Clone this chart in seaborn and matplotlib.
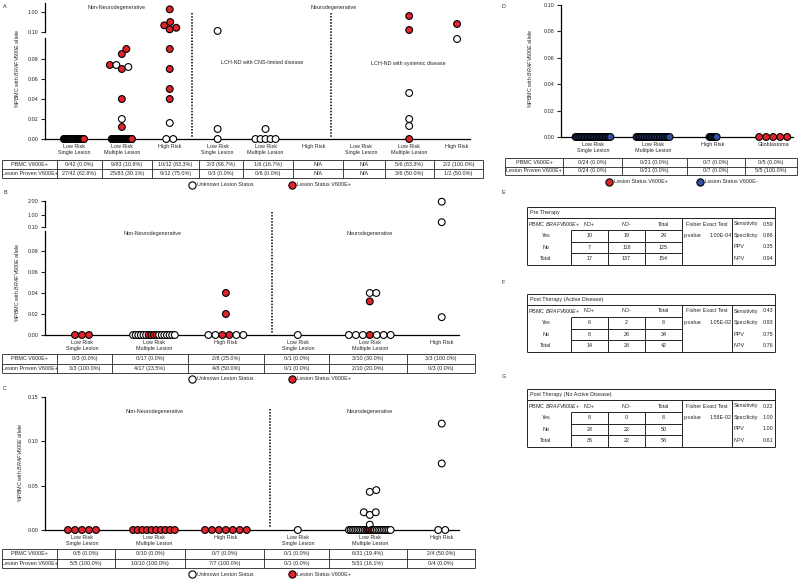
"""PBMC BRAFV600E allele burden by LCH risk group, with ND 2x2 tables"""

import matplotlib
matplotlib.use("Agg")
import matplotlib.pyplot as plt
from matplotlib.lines import Line2D
import numpy as np
import pandas as pd
import seaborn as sns

W, H = 800, 579
RED = "#e3232b"
BLUE = "#34509e"
FS = 3.9

# ---- panel A data ----
A_cats = ["Low Risk\nSingle Lesion", "Low Risk\nMultiple Lesion", "High Risk",
          "Low Risk\nSingle Lesion", "Low Risk\nMultiple Lesion", "High Risk",
          "Low Risk\nSingle Lesion", "Low Risk\nMultiple Lesion", "High Risk"]
A_pos_zero = [27, 19, 0, 0, 0, 0, 0, 1, 0]
A_unk_zero = [15, 55, 2, 1, 5, 0, 0, 0, 0]
A_pos_vals = [[], [0.074, 0.085, 0.09, 0.07, 0.04, 0.012],
              [1.12, 0.55, 0.40, 0.22, 0.29, 0.09, 0.07, 0.05, 0.04],
              [], [], [], [], [0.82, 0.19], [0.46]]
A_unk_vals = [[], [0.072, 0.074, 0.02], [0.016], [0.15, 0.01], [0.01],
              [], [], [0.046, 0.02, 0.013], [0.10]]
A_pbmc = ["0/42 (0.0%)", "9/83 (10.8%)", "10/12 (83.3%)", "2/3 (66.7%)", "1/6 (16.7%)",
          "N/A", "N/A", "5/6 (83.3%)", "2/2 (100.0%)"]
A_lesion = ["27/42 (62.8%)", "25/83 (30.1%)", "9/12 (75.0%)", "0/3 (0.0%)", "0/6 (0.0%)",
            "N/A", "N/A", "3/6 (50.0%)", "1/2 (50.0%)"]

# ---- panel B data ----
BC_cats = ["Low Risk\nSingle Lesion", "Low Risk\nMultiple Lesion", "High Risk",
           "Low Risk\nSingle Lesion", "Low Risk\nMultiple Lesion", "High Risk"]
B_pos_zero = [3, 4, 2, 0, 1, 0]
B_unk_zero = [0, 13, 4, 1, 6, 0]
B_pos_vals = [[], [], [0.04, 0.02], [], [0.032], []]
B_unk_vals = [[], [], [], [], [0.04, 0.04], [1.95, 0.45, 0.017]]
B_pbmc = ["0/3 (0.0%)", "0/17 (0.0%)", "2/8 (25.0%)", "0/1 (0.0%)", "3/10 (30.0%)", "3/3 (100.0%)"]
B_lesion = ["3/3 (100.0%)", "4/17 (23.5%)", "4/8 (50.0%)", "0/1 (0.0%)", "2/10 (20.0%)", "0/3 (0.0%)"]

# ---- panel C data ----
C_pos_zero = [5, 10, 7, 0, 5, 0]
C_unk_zero = [0, 0, 0, 1, 20, 2]
C_pos_vals = [[], [], [], [], [], []]
C_unk_vals = [[], [], [], [], [0.043, 0.045, 0.020, 0.017, 0.020, 0.006], [0.12, 0.075]]
C_pbmc = ["0/5 (0.0%)", "0/10 (0.0%)", "0/7 (0.0%)", "0/1 (0.0%)", "6/31 (19.4%)", "2/4 (50.0%)"]
C_lesion = ["5/5 (100.0%)", "10/10 (100.0%)", "7/7 (100.0%)", "0/1 (0.0%)", "5/31 (16.1%)", "0/4 (0.0%)"]

# ---- panel D data ----
D_cats = ["Low Risk\nSingle Lesion", "Low Risk\nMultiple Lesion", "High Risk", "Glioblastoma"]
D_pos_zero = [0, 0, 0, 5]
D_neg_zero = [24, 21, 7, 0]
D_pbmc = ["0/24 (0.0%)", "0/21 (0.0%)", "0/7 (0.0%)", "0/5 (0.0%)"]
D_lesion = ["0/24 (0.0%)", "0/21 (0.0%)", "0/7 (0.0%)", "5/5 (100.0%)"]

# ---- panels E-G: 2x2 tables ----
E_counts = [[10, 19, 29], [7, 118, 125], [17, 137, 154]]
F_counts = [[6, 2, 8], [8, 26, 34], [14, 28, 42]]
G_counts = [[8, 0, 8], [28, 22, 50], [36, 22, 58]]
E_metrics = [0.59, 0.86, 0.35, 0.94]
F_metrics = [0.43, 0.93, 0.75, 0.76]
G_metrics = [0.22, 1.00, 1.00, 0.61]
pvalues = ["1.00E-04", "1.05E-02", "1.58E-02"]
titles = ["Pre Therapy", "Post Therapy (Active Disease)", "Post Therapy (No Active Disease)"]

sns.set_style("white")
plt.rcParams["font.family"] = ["Liberation Sans", "DejaVu Sans"]
plt.rcParams["mathtext.fontset"] = "custom"
plt.rcParams["mathtext.rm"] = "Liberation Sans"
plt.rcParams["mathtext.it"] = "Liberation Sans:italic"

PAL = {"V600E+": RED, "Unknown": "white", "V600E-": BLUE}
YLAB = r"%PBMC with $\it{BRAFV600E}$ allele"


def px_axes(fig, x0, y0, x1, y1):
    return fig.add_axes([x0 / W, 1 - y1 / H, (x1 - x0) / W, (y1 - y0) / H])


def build_frame(pos_zero, oth_zero, pos_vals, oth_vals, oth_label,
                split, x_px, y_lo, y_hi, max_span, reds_center=True):
    rows = []
    spans = max_span if isinstance(max_span, list) else [max_span] * len(pos_zero)
    for i in range(len(pos_zero)):
        # points sitting on zero are laid out as one row
        reds = ["V600E+"] * pos_zero[i]
        others = [oth_label] * oth_zero[i]
        st = reds + others if reds_center else others + reds
        n = len(st)
        if n:
            step = 7.0 if n == 1 else min(7.0, spans[i] * x_px / (n - 1))
            slots = (np.arange(n) - (n - 1) / 2) * step
            slots = slots[np.argsort(np.abs(slots), kind="stable")]
            for s, o in zip(st, slots):
                rows.append((i, i + o / x_px, 0.0, s, "lo"))
        # the rest are swarmed so they don't overlap
        pts = sorted([(v, "V600E+") for v in pos_vals[i]] + [(v, oth_label) for v in oth_vals[i]])
        placed = {"lo": [], "hi": []}
        for v, s in pts:
            seg = "lo" if v <= split else "hi"
            ypx = v * (y_lo if seg == "lo" else y_hi)
            k, o = 0, None
            while o is None:
                for c in ([0.0] if k == 0 else [k * 0.5, -k * 0.5]):
                    if all(np.hypot(c - px, ypx - py) >= 6.5 for px, py in placed[seg]):
                        o = c
                        break
                k += 1
            placed[seg].append((o, ypx))
            rows.append((i, i + o / x_px, v, s, seg))
    df = pd.DataFrame(rows, columns=["cat", "x", "val", "status", "seg"])
    return df.sort_values("x")


def plot_points(ax, df):
    if len(df):
        sns.scatterplot(data=df, x="x", y="val", hue="status", palette=PAL, s=24,
                        edgecolor="black", linewidth=0.8, legend=False, ax=ax,
                        clip_on=False, zorder=3)
    ax.set(xlabel="", ylabel="")


def style_axis(ax, yticks, xlim, ylim, cats=None):
    ax.set_xlim(*xlim)
    ax.set_ylim(*ylim)
    ax.patch.set_alpha(0)
    for s in ["top", "right"]:
        ax.spines[s].set_visible(False)
    for s in ["left", "bottom"]:
        ax.spines[s].set_linewidth(0.9)
        ax.spines[s].set_color("black")
    ax.tick_params(axis="y", left=True, length=3, width=0.8, labelsize=FS, pad=1.5)
    ax.set_yticks(yticks)
    ax.set_yticklabels([f"{t:.2f}" for t in yticks])
    if cats is None:
        ax.spines["bottom"].set_visible(False)
        ax.set_xticks([])
    else:
        ax.set_xticks(range(len(cats)))
        ax.set_xticklabels(cats, fontsize=FS, linespacing=1.35)
        ax.tick_params(axis="x", bottom=False, length=0, pad=3.5)


def draw_table(ov, xs, y0, y1, labels, rows):
    ym = (y0 + y1) / 2
    ov.vlines(xs, y0, y1, color="#222222", lw=0.6)
    ov.hlines([y0, ym, y1], xs[0], xs[-1], color="#222222", lw=0.6)
    for r, (lab, vals) in enumerate(zip(labels, rows)):
        yc = y0 + (r + 0.5) * (y1 - y0) / 2
        ov.text((xs[0] + xs[1]) / 2, yc, lab, fontsize=FS, ha="center", va="center")
        for j, v in enumerate(vals):
            ov.text((xs[j + 1] + xs[j + 2]) / 2, yc, v, fontsize=FS, ha="center", va="center")


def add_legend(fig, cx, cy, entries, gap):
    handles = [Line2D([], [], ls="none", marker="o", markersize=5.2, markerfacecolor=c,
                      markeredgecolor="black", markeredgewidth=0.8) for c, _ in entries]
    fig.legend(handles, [t for _, t in entries], ncol=2, loc="center",
               bbox_to_anchor=(cx / W, 1 - cy / H), frameon=False, fontsize=FS,
               handlelength=1.0, handletextpad=0.5, columnspacing=gap, borderpad=0)


def draw_2x2(ov, top, title, counts, pval, metrics):
    L, c1, c2, c3, c4, c5, R = 527, 571, 608, 645, 682, 732, 775
    bot = top + 57.5
    g0 = top + 23
    rh = (bot - g0) / 3
    lw = 0.7
    kw = dict(color="#222222", lw=lw)
    ov.vlines([L, R], top, bot, **kw)
    ov.hlines([top, bot], L, R, **kw)
    ov.hlines(top + 11, L, R, **kw)
    ov.vlines([c4, c5], top + 11, bot, **kw)
    ov.vlines([c1, c2, c3], g0, bot, **kw)
    ov.hlines([g0 + k * rh for k in range(3)], c1, c4, **kw)
    ov.text(L + 2.5, top + 5.5, title, fontsize=FS, ha="left", va="center")
    hy = top + 17
    ov.text(L + 1.5, hy, r"PBMC $\it{BRAFV600E}$+", fontsize=FS, ha="left", va="center")
    for xc, t in zip([(c1 + c2) / 2, (c2 + c3) / 2, (c3 + c4) / 2], ["ND+", "ND-", "Total"]):
        ov.text(xc, hy, t, fontsize=FS, ha="center", va="center")
    ov.text((c4 + c5) / 2, hy, "Fisher Exact Test", fontsize=FS, ha="center", va="center")
    ov.text(c4 + 1.5, g0 + rh / 2, "p-value", fontsize=FS, ha="left", va="center")
    ov.text(c5 - 0.5, g0 + rh / 2, pval, fontsize=FS, ha="right", va="center")
    for k, (name, m) in enumerate(zip(["Sensitivity", "Specificity", "PPV", "NPV"], metrics)):
        yy = hy + k * rh
        ov.text(c5 + 2, yy, name, fontsize=FS, ha="left", va="center")
        ov.text(R - 1.5, yy, f"{m:.2f}", fontsize=FS, ha="right", va="center")
    for k, (lab, row) in enumerate(zip(["Yes", "No", "Total"], counts)):
        yy = g0 + (k + 0.5) * rh
        ov.text(546, yy, lab, fontsize=FS, ha="center", va="center")
        for xc, v in zip([(c1 + c2) / 2, (c2 + c3) / 2, (c3 + c4) / 2], row):
            ov.text(xc, yy, str(v), fontsize=FS, ha="center", va="center")


fig = plt.figure(figsize=(W / 100, H / 100), dpi=100, facecolor="white")

# ---------------- A ----------------
dfA = build_frame(A_pos_zero, A_unk_zero, A_pos_vals, A_unk_vals, "Unknown",
                  0.101, 47.9, 1000, 22.2, 0.42, reds_center=False)
xA = (-0.605, 8.27)
axA_hi = px_axes(fig, 45, 3, 470, 32)
plot_points(axA_hi, dfA[dfA.seg == "hi"])
style_axis(axA_hi, [0.10, 1.00], xA, (0.10, 1.405))
axA = px_axes(fig, 45, 38, 470, 139)
plot_points(axA, dfA[dfA.seg == "lo"])
style_axis(axA, [0, 0.02, 0.04, 0.06, 0.08], xA, (0, 0.101), A_cats)

# ---------------- B ----------------
dfB = build_frame(B_pos_zero, B_unk_zero, B_pos_vals, B_unk_vals, "Unknown",
                  0.099, 72, 1050, 13.7, 0.58)
xB = (-0.514, 5.24)
axB_hi = px_axes(fig, 45, 201, 459, 227)
plot_points(axB_hi, dfB[dfB.seg == "hi"])
style_axis(axB_hi, [0.10, 1.00, 2.00], xB, (0.10, 2.0))
axB = px_axes(fig, 45, 231, 459, 335)
plot_points(axB, dfB[dfB.seg == "lo"])
style_axis(axB, [0, 0.02, 0.04, 0.06, 0.08], xB, (0, 0.099), BC_cats)

# ---------------- C ----------------
dfC = build_frame(C_pos_zero, C_unk_zero, C_pos_vals, C_unk_vals, "Unknown",
                  1.0, 72, 887, 1, 0.58)
axC = px_axes(fig, 45, 397, 459, 530)
plot_points(axC, dfC)
style_axis(axC, [0, 0.05, 0.10, 0.15], xB, (0, 0.15), BC_cats)

# ---------------- D ----------------
dfD = build_frame(D_pos_zero, D_neg_zero, [[]] * 4, [[]] * 4, "V600E-",
                  1.0, 60, 1320, 1, [0.58, 0.55, 0.12, 0.58])
axD = px_axes(fig, 561, 5, 793, 137)
plot_points(axD, dfD)
style_axis(axD, [0, 0.02, 0.04, 0.06, 0.08, 0.10], (-0.533, 3.33), (0, 0.10), D_cats)

# ---------------- overlay: text, separators, tables ----------------
ov = fig.add_axes([0, 0, 1, 1])
ov.set_xlim(0, W)
ov.set_ylim(H, 0)
ov.axis("off")

for lab, x, y in [("A", 3, 6), ("B", 3, 192), ("C", 3, 388), ("D", 502, 6),
                  ("E", 502, 192), ("F", 502, 283), ("G", 502, 377)]:
    ov.text(x, y, lab, fontsize=FS, ha="left", va="center")

for x, y in [(17, 68), (17, 282), (20, 462), (530, 68)]:
    ov.text(x, y, YLAB, fontsize=FS, rotation=90, ha="center", va="center")

dots = dict(color="black", lw=1.1, ls=(0, (1, 1)))
ov.plot([192, 192], [13, 137], **dots)
ov.plot([331, 331], [13, 137], **dots)
ov.plot([272, 272], [212, 333], **dots)
ov.plot([270, 270], [409, 528], **dots)

for t, x, y in [("Non-Neurodegenerative", 117, 8), ("Neurodegenerative", 334, 8),
                ("LCH-ND with CNS-limited disease", 262, 63),
                ("LCH-ND with systemic disease", 408, 63),
                ("Non-Neurodegenerative", 152, 233), ("Neurodegenerative", 370, 233),
                ("Non-Neurodegenerative", 155, 412), ("Neurodegenerative", 370, 412)]:
    ov.text(x, y, t, fontsize=FS, ha="center", va="center")

row_labels = ["PBMC V600E+", "Lesion Proven V600E+"]
draw_table(ov, [2, 57, 102, 152, 199, 243, 293, 343, 385, 434, 483], 160, 178,
           row_labels, [A_pbmc, A_lesion])
draw_table(ov, [2, 57, 112, 188, 264, 329, 407, 475], 354, 373,
           row_labels, [B_pbmc, B_lesion])
draw_table(ov, [2, 57, 115, 185, 264, 329, 407, 475], 549, 568,
           row_labels, [C_pbmc, C_lesion])
draw_table(ov, [505, 563, 622, 687, 745, 797], 158, 175,
           row_labels, [D_pbmc, D_lesion])

unk_entries = [("white", "Unknown Lesion Status"), (RED, "Lesion Status V600E+")]
for cy in [185, 379, 574]:
    add_legend(fig, 270, cy, unk_entries, 6.5)
add_legend(fig, 682, 182, [(RED, "Lesion Status V600E+"), (BLUE, "Lesion Status V600E-")], 5.4)

for top, title, counts, pv, mets in zip([207, 294, 389], titles,
                                        [E_counts, F_counts, G_counts], pvalues,
                                        [E_metrics, F_metrics, G_metrics]):
    draw_2x2(ov, top, title, counts, pv, mets)

fig.savefig("out.png", dpi=100, facecolor="white")
